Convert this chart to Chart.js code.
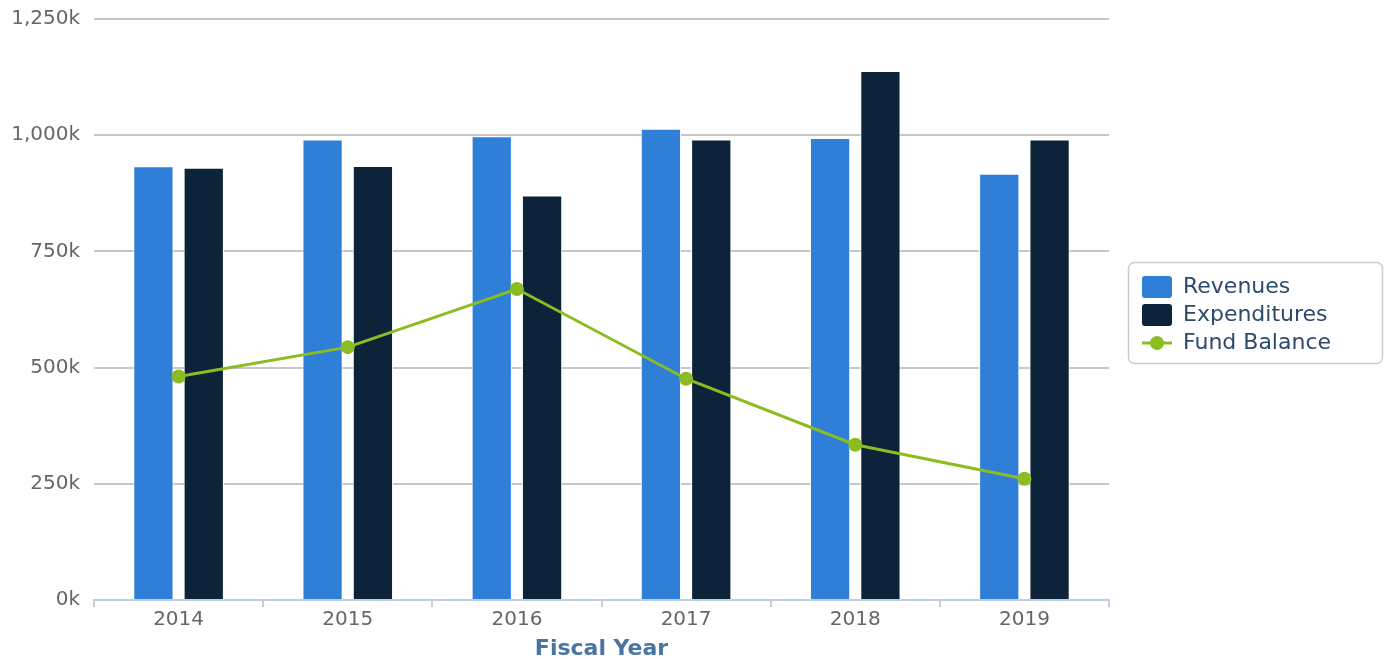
<!DOCTYPE html>
<html>
<head>
<meta charset="utf-8">
<script src="https://cdn.jsdelivr.net/npm/chart.js@4"></script>
<style>
  html, body { margin: 0; padding: 0; background: #ffffff; }
  #wrap { width: 1389px; height: 659px; position: relative; }
</style>
</head>
<body>
<div id="wrap"><canvas id="c" width="1389" height="659"></canvas></div>
<script>
const categories = ['2014', '2015', '2016', '2017', '2018', '2019'];
const revenues = [933000, 991000, 998000, 1014000, 994000, 917000];
const expenditures = [930000, 934000, 870000, 991000, 1138000, 991000];
const fundBalance = [481000, 544000, 669000, 476000, 334000, 261000];
const yTicks = [0, 250000, 500000, 750000, 1000000, 1250000];

const COLORS = { rev: '#2f7ed8', exp: '#0d233a', fund: '#8bbc21' };
const FONT = 'DejaVu Sans';

function makeBoxIcon(color) {
  const c = document.createElement('canvas');
  c.width = 30; c.height = 22;
  const x = c.getContext('2d');
  x.fillStyle = color;
  x.beginPath();
  x.roundRect(0, 0, 30, 22, 3);
  x.fill();
  return c;
}
function makeLineIcon(color) {
  const c = document.createElement('canvas');
  c.width = 30; c.height = 22;
  const x = c.getContext('2d');
  x.strokeStyle = color; x.lineWidth = 3;
  x.beginPath(); x.moveTo(0, 11); x.lineTo(30, 11); x.stroke();
  x.fillStyle = color;
  x.beginPath(); x.arc(15, 11, 7, 0, Math.PI * 2); x.fill();
  return c;
}
const icons = [makeBoxIcon(COLORS.rev), makeBoxIcon(COLORS.exp), makeLineIcon(COLORS.fund)];

const legendPlugin = {
  id: 'legendFrame',
  beforeLayout(chart) {
    const lg = chart.legend;
    if (lg && !lg._patched) {
      const orig = lg.fit.bind(lg);
      lg.fit = function () { orig(); this.width = 280; };
      lg._patched = true;
    }
  },
  afterLayout(chart) {
    const lg = chart.legend;
    lg.left = 1136; lg.right = 1389;
    lg.top = 270; lg.bottom = 381;
  },
  afterDraw(chart) {
    const ctx = chart.ctx;
    ctx.save();
    ctx.strokeStyle = '#cccccc';
    ctx.lineWidth = 1.5;
    ctx.beginPath();
    ctx.roundRect(1128.5, 262.5, 254, 101, 6);
    ctx.stroke();
    ctx.restore();
  }
};

new Chart(document.getElementById('c'), {
  type: 'bar',
  data: {
    labels: categories,
    datasets: [
      { label: 'Revenues', data: revenues, backgroundColor: COLORS.rev, borderColor: '#ffffff', borderWidth: 1, order: 1,
        categoryPercentage: 0.595, barPercentage: 0.8 },
      { label: 'Expenditures', data: expenditures, backgroundColor: COLORS.exp, borderColor: '#ffffff', borderWidth: 1, order: 1,
        categoryPercentage: 0.595, barPercentage: 0.8 },
      { type: 'line', label: 'Fund Balance', data: fundBalance, borderColor: COLORS.fund, backgroundColor: COLORS.fund,
        borderWidth: 3, pointRadius: 7, pointHoverRadius: 7, pointBorderWidth: 0, pointBackgroundColor: COLORS.fund,
        tension: 0, order: 0 }
    ]
  },
  options: {
    responsive: false,
    animation: false,
    layout: { padding: { top: 19, left: 0, right: 0, bottom: 0 } },
    plugins: {
      tooltip: { enabled: false },
      legend: {
        position: 'right',
        align: 'start',
        labels: {
          font: { family: FONT, size: 22 },
          color: '#2c4a6b',
          usePointStyle: true,
          pointStyleWidth: 30,
          boxHeight: 22,
          padding: 6,
          sort: (a, b) => a.datasetIndex - b.datasetIndex,
          generateLabels(chart) {
            const items = Chart.defaults.plugins.legend.labels.generateLabels(chart);
            items.forEach(it => { it.pointStyle = icons[it.datasetIndex]; });
            return items;
          }
        }
      }
    },
    scales: {
      x: {
        offset: true,
        grid: { display: true, drawOnChartArea: false, drawTicks: true, tickLength: 7, color: '#c0d0e0', lineWidth: 2, offset: true },
        border: { display: true, color: '#c0d0e0', width: 2 },
        ticks: { color: '#666666', font: { family: FONT, size: 20 }, padding: 1 },
        title: { display: true, text: 'Fiscal Year', color: '#4a74a2', font: { family: FONT, size: 22, weight: 'bold' }, padding: { top: 0, bottom: -3 } },
        afterFit(scale) { scale.height = 59; }
      },
      y: {
        min: 0, max: 1250000,
        afterBuildTicks(scale) { scale.ticks = yTicks.map(v => ({ value: v })); },
        grid: { color: '#c6c6c6', lineWidth: 2, drawTicks: false },
        border: { display: false },
        ticks: {
          color: '#666666', font: { family: FONT, size: 20 }, padding: 14,
          callback: v => (v / 1000).toLocaleString('en-US') + 'k'
        },
        afterFit(scale) { scale.width = 94; scale.paddingTop = 0; scale.paddingBottom = 0; }
      }
    }
  },
  plugins: [legendPlugin]
});
</script>
</body>
</html>
